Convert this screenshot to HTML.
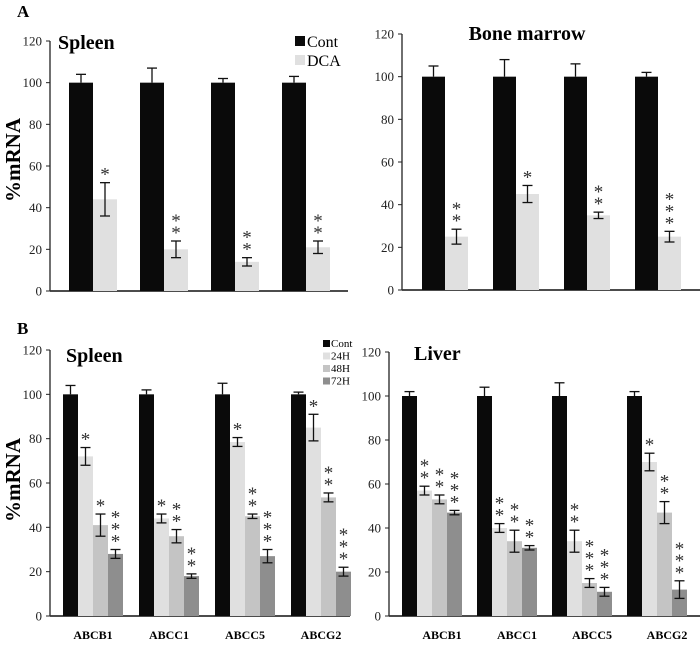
<!DOCTYPE html>
<html><head><meta charset="utf-8"><style>
body{margin:0;background:#fff;}
svg text{font-family:"Liberation Serif",serif;}
</style></head><body>
<svg id="c" width="700" height="649" xmlns="http://www.w3.org/2000/svg">
<text x="17" y="17" font-size="17" font-weight="bold">A</text>
<text x="17" y="334" font-size="17" font-weight="bold">B</text>
<text transform="translate(20,160) rotate(-90)" text-anchor="middle" font-size="21" font-weight="bold">%mRNA</text>
<text transform="translate(20,480) rotate(-90)" text-anchor="middle" font-size="21" font-weight="bold">%mRNA</text>
</svg>
<script>
const ticks=[0,20,40,60,80,100,120];
const genes=["ABCB1","ABCC1","ABCC5","ABCG2"];
const colors=["#0a0a0a","#e0e0e0","#c4c4c4","#8e8e8e"];
// Panel A spleen
const aSpleenCont=[100,100,100,100];
const aSpleenContErr=[4,7,2,3];
const aSpleenDCA=[44,20,14,21];
const aSpleenDCAErr=[8,4,2,3];
const aSpleenStars=[1,2,2,2];
// Panel A bone marrow
const aBMCont=[100,100,100,100];
const aBMContErr=[5,8,6,2];
const aBMDCA=[25,45,35,25];
const aBMDCAErr=[3.5,4,1.5,2.5];
const aBMStars=[2,1,2,3];
// Panel B spleen
const bSpCont=[100,100,100,100];
const bSpContErr=[4,2,5,1];
const bSp24=[72,44,78.5,85];
const bSp24Err=[4,2,2,6];
const bSp48=[41,36,45,53.5];
const bSp48Err=[5,3,1,2];
const bSp72=[28,18,27,20];
const bSp72Err=[2,1,3,2];
const bSpStars24=[1,1,1,1];
const bSpStars48=[1,2,2,2];
const bSpStars72=[3,2,3,3];
// Panel B liver
const bLvCont=[100,100,100,100];
const bLvContErr=[2,4,6,2];
const bLv24=[57,40,34,70];
const bLv24Err=[2,2,5,4];
const bLv48=[53,34,15,47];
const bLv48Err=[2,5,2,5];
const bLv72=[47,31,11,12];
const bLv72Err=[1,1,2,4];
const bLvStars24=[2,2,2,1];
const bLvStars48=[2,2,3,2];
const bLvStars72=[3,2,3,3];

const svg=document.getElementById('c');
const NS="http://www.w3.org/2000/svg";
function mk(tag,attrs,txt){const e=document.createElementNS(NS,tag);for(const k in attrs)e.setAttribute(k,attrs[k]);if(txt!==undefined)e.textContent=txt;svg.appendChild(e);return e;}

function panel(p){
  const y=v=>p.y0-(v/120)*(p.y0-p.y120);
  let e=mk('line',{x1:p.ax,y1:p.y120,x2:p.ax,y2:p.y0,stroke:'#222','stroke-width':1.3});
  
  
  e=mk('line',{x1:p.ax,y1:p.y0,x2:p.axEnd,y2:p.y0,stroke:'#333','stroke-width':1.8});
  
  
  ticks.forEach(t=>{
    mk('line',{x1:p.ax-4,y1:y(t),x2:p.ax,y2:y(t),stroke:'#222'});
    e=mk('text',{x:p.ax-8,y:y(t)+4.5,'text-anchor':'end','font-size':13,fill:'#222'},t);
    
    
  });
  p.series.forEach((s,si)=>{
    s.vals.forEach((v,gi)=>{
      const x=p.x0+gi*p.step+si*p.bw;
      const r=mk('rect',{x:x,y:y(v),width:p.bw,height:p.y0-y(v),fill:colors[si]});
      
      
      const cx=x+p.bw/2, er=s.err[gi], top=y(v+er), bot=si===0?y(v):y(v-er);
      mk('line',{x1:cx,y1:top,x2:cx,y2:bot,stroke:'#111','stroke-width':1.3});
      mk('line',{x1:cx-5,y1:top,x2:cx+5,y2:top,stroke:'#111','stroke-width':1.3});
      if(si>0) mk('line',{x1:cx-5,y1:bot,x2:cx+5,y2:bot,stroke:'#111','stroke-width':1.3});
      const n=s.stars?s.stars[gi]:0;
      for(let k=0;k<n;k++){
        const st=mk('text',{x:cx,y:top-2-k*12,'text-anchor':'middle','font-size':19,fill:'#333'},'*');
        
        
      }
    });
  });
  if(p.labels){
    genes.forEach((g,gi)=>{
      const t=mk('text',{x:p.x0+gi*p.step+p.bw*p.series.length/2+p.lo,y:p.y0+23,'text-anchor':'middle','font-size':12,'font-weight':'bold'},g);
      
      
    });
  }
  const t=mk('text',{x:p.tx,y:p.ty,'text-anchor':p.ta||'start','font-size':20,'font-weight':'bold'},p.title);
  
  
}
panel({id:'a-spleen',ax:50,axEnd:348,y0:291,y120:41,x0:69,step:71,bw:24,title:'Spleen',tx:58,ty:49,
  series:[{name:'cont',vals:aSpleenCont,err:aSpleenContErr},{name:'dca',vals:aSpleenDCA,err:aSpleenDCAErr,stars:aSpleenStars}]});
panel({id:'a-bone-marrow',ax:402,axEnd:700,y0:290,y120:34,x0:422,step:71,bw:23,title:'Bone marrow',tx:527,ty:40,ta:'middle',
  series:[{name:'cont',vals:aBMCont,err:aBMContErr},{name:'dca',vals:aBMDCA,err:aBMDCAErr,stars:aBMStars}]});
panel({id:'b-spleen',ax:50,axEnd:350,y0:616,y120:350,x0:63,step:76,bw:15,title:'Spleen',tx:66,ty:362,labels:true,lo:0,
  series:[{name:'cont',vals:bSpCont,err:bSpContErr},{name:'24h',vals:bSp24,err:bSp24Err,stars:bSpStars24},{name:'48h',vals:bSp48,err:bSp48Err,stars:bSpStars48},{name:'72h',vals:bSp72,err:bSp72Err,stars:bSpStars72}]});
panel({id:'b-liver',ax:389,axEnd:700,y0:616,y120:352,x0:402,step:75,bw:15,title:'Liver',tx:414,ty:360,labels:true,lo:10,
  series:[{name:'cont',vals:bLvCont,err:bLvContErr},{name:'24h',vals:bLv24,err:bLv24Err,stars:bLvStars24},{name:'48h',vals:bLv48,err:bLv48Err,stars:bLvStars48},{name:'72h',vals:bLv72,err:bLv72Err,stars:bLvStars72}]});
// legends
[["Cont",0],["DCA",1]].forEach(([n,ci],i)=>{
  const r=mk('rect',{x:295,y:36+i*19,width:10,height:10,fill:colors[ci]});
  
  
  const t=mk('text',{x:307,y:47+i*19,'font-size':16},n);
  
  
});
["Cont","24H","48H","72H"].forEach((n,i)=>{
  const r=mk('rect',{x:323,y:340+i*12.5,width:7,height:7,fill:colors[i]});
  
  
  const t=mk('text',{x:331,y:347+i*12.5,'font-size':11},n);
  
  
});
</script>
</body></html>
